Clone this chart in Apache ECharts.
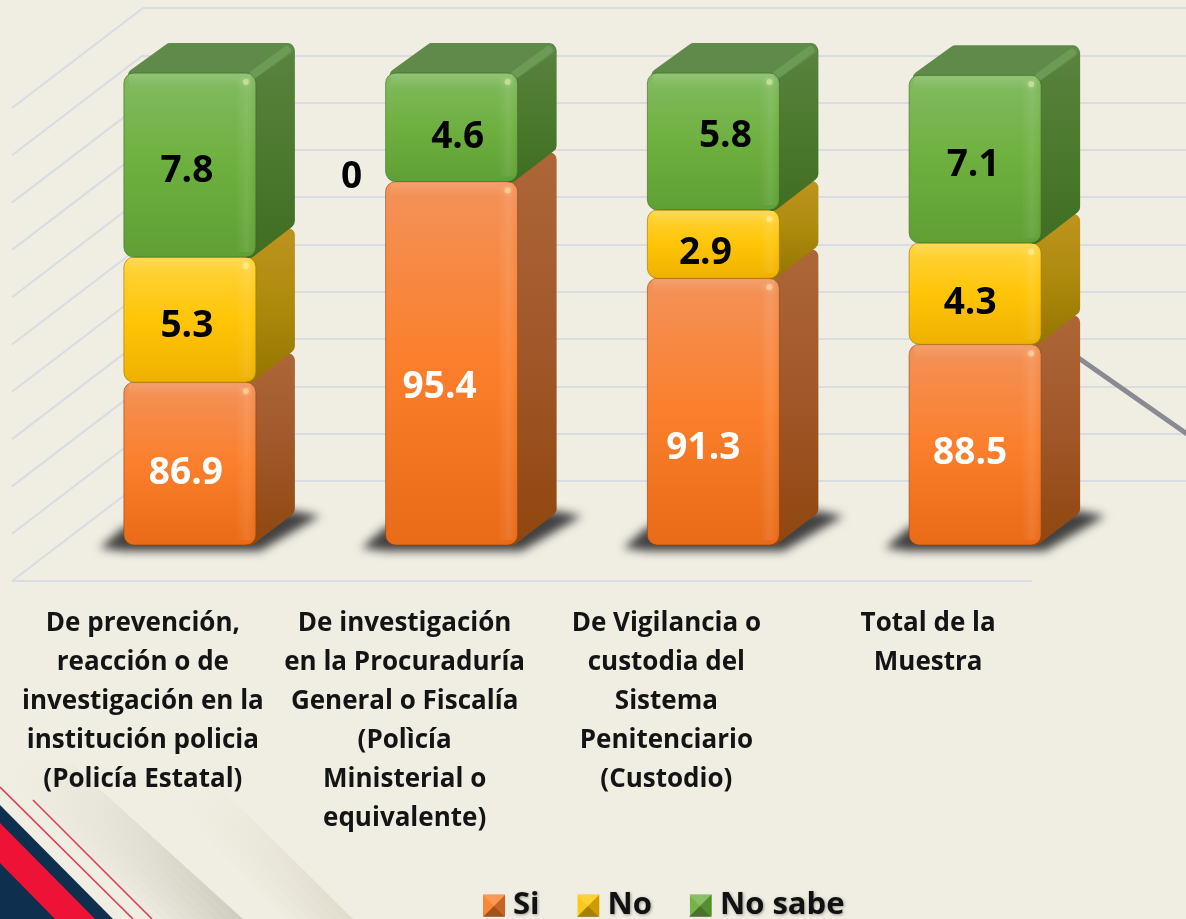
<!DOCTYPE html>
<html>
<head>
<meta charset="utf-8">
<title>Stacked bars</title>
<script src="https://cdn.jsdelivr.net/npm/echarts@6/dist/echarts.min.js"></script>
<style>
  html, body { margin: 0; padding: 0; background: #f0ede2; }
  #chart { width: 1186px; height: 919px; }
</style>
</head>
<body>
<div id="chart"></div>
<script>
var categories = [
  'De prevención,\nreacción o de\ninvestigación en la\ninstitución policia\n(Policía Estatal)',
  'De investigación\nen la Procuraduría\nGeneral o Fiscalía\n(Polìcía\nMinisterial o\nequivalente)',
  'De Vigilancia o\ncustodia del\nSistema\nPenitenciario\n(Custodio)',
  'Total de la\nMuestra\n\n\n\n'
]
var siValues = [86.9, 95.4, 91.3, 88.5]
var noValues = [5.3, 0, 2.9, 4.3]
var noSabeValues = [7.8, 4.6, 5.8, 7.1]
var seriesNames = ['Si', 'No', 'No sabe']
var wallTicks = [80, 82, 84, 86, 88, 90, 92, 94, 96, 98, 100]

var axisMin = 80
var axisMax = 100
var font = '"Open Sans", sans-serif'
var depthX = 39
var depthY = -30
var frontWidth = 132

// data labels sit where they were dragged in the original, not at the face centre
var labelNudge = [
  [[-4, 10], [-12, 24], [-10, 37], [-5, 9]],
  [[-3, 7], [-100, -4], [-8, 9], [-5, 10]],
  [[-3, 6], [6, 10], [12, -5], [-2, 6]]
]

var palette = [
  { front: ['#f39259', '#fb7f2c', '#e96a17'], side: ['#ad6638', '#a0582a', '#8f460e'], edge: 'rgba(140,70,20,0.6)', text: '#fff', shadow: 'rgba(60,40,20,0.8)' },
  { front: ['#ffd43e', '#ffc506', '#efb000'], side: ['#bd941f', '#ad8a0c', '#957500'], edge: 'rgba(150,115,0,0.6)', text: '#000', shadow: 'rgba(90,70,0,0.7)' },
  { front: ['#82bb61', '#6eb03f', '#5f9f35'], side: ['#5a8340', '#4c7a2e', '#3f6d22'], edge: 'rgba(60,105,35,0.6)', text: '#000', shadow: 'rgba(20,50,10,0.7)' }
]

function vGrad(c) {
  return new echarts.graphic.LinearGradient(0, 0, 0, 1, [
    { offset: 0, color: c[0] },
    { offset: 0.5, color: c[1] },
    { offset: 1, color: c[2] }
  ])
}

function makeStack(values, bases) {
  return values.map(function (v, i) {
    return [i, bases[i], bases[i] + v, v]
  })
}

var siData = makeStack(siValues, [0, 0, 0, 0])
var noData = makeStack(noValues, siValues)
var noSabeData = makeStack(noSabeValues, siValues.map(function (v, i) { return v + noValues[i] }))

function renderSegment(s, params, api) {
  var i = api.value(0)
  var val = api.value(3)
  var p = palette[s]
  var bottom = api.coord([i, Math.max(api.value(1), axisMin)])
  var top = api.coord([i, api.value(2)])
  var x0 = bottom[0] - frontWidth / 2
  var x1 = x0 + frontWidth
  var yB = bottom[1]
  var yT = top[1]
  var kids = []

  // floor shadow: only the blur is painted, the shape itself stays off the canvas
  if (s === 0) {
    var off = 3000
    kids.push({
      type: 'polygon',
      shape: { points: [[x0 - 24 - off, yB + 3], [x0 - off, yB + 6], [x1 + 4 - off, yB + 6], [x1 + 64 - off, yB - 29], [x1 + 38 - off, yB - 34], [x0 - off, yB - 18]] },
      style: { fill: '#555', shadowBlur: 10, shadowOffsetX: off, shadowColor: 'rgba(65,65,65,1)' }
    })
  }

  if (val > 0) {
    var sideFill = vGrad(p.side)
    kids.push({
      type: 'polygon',
      shape: { points: [[x1 - 7, yT + 8], [x1 + depthX - 7, yT + depthY + 8], [x1 + depthX - 7, yB + depthY - 6], [x1 - 7, yB - 6]] },
      style: { fill: sideFill, stroke: sideFill, lineWidth: 14, lineJoin: 'round' }
    })
    if (s === 2) {
      kids.push({
        type: 'polygon',
        shape: { points: [[x0 + 10, yT + 2], [x0 + depthX + 7, yT + depthY + 6], [x1 + depthX - 7, yT + depthY + 6], [x1 - 6, yT + 2]] },
        style: { fill: '#5f8a4a', stroke: '#5f8a4a', lineWidth: 12, lineJoin: 'round' }
      })
      kids.push({
        type: 'line',
        shape: { x1: x1 - 2, y1: yT + 1, x2: x1 + depthX - 8, y2: yT + depthY + 7 },
        style: { stroke: 'rgba(135,185,105,0.35)', lineWidth: 8, lineCap: 'round' }
      })
    }
    kids.push({
      type: 'rect',
      shape: { x: x0, y: yT, width: frontWidth, height: yB - yT, r: 10 },
      style: { fill: vGrad(p.front), stroke: p.edge, lineWidth: 1 }
    })
    kids.push({
      type: 'rect',
      shape: { x: x1 - 20, y: yT + 5, width: 18, height: yB - yT - 10 },
      style: { fill: new echarts.graphic.LinearGradient(0, 0, 1, 0, [
        { offset: 0, color: 'rgba(255,255,255,0)' },
        { offset: 0.6, color: 'rgba(255,255,255,0.09)' },
        { offset: 1, color: 'rgba(255,255,255,0.02)' }
      ]) }
    })
    kids.push({
      type: 'rect',
      shape: { x: x0 + 5, y: yT + 1, width: frontWidth - 10, height: 14 },
      style: { fill: new echarts.graphic.LinearGradient(0, 0, 0, 1, [
        { offset: 0, color: 'rgba(255,255,255,0.13)' },
        { offset: 1, color: 'rgba(255,255,255,0)' }
      ]) }
    })
    kids.push({
      type: 'circle',
      shape: { cx: x1 - 10, cy: yT + 9, r: 3 },
      style: { fill: 'rgba(255,255,190,0.4)', shadowBlur: 5, shadowColor: 'rgba(255,255,190,0.6)' }
    })
  }

  var nudge = labelNudge[s][i]
  kids.push({
    type: 'text',
    z2: 20,
    style: {
      x: bottom[0] + nudge[0],
      y: (yB + yT) / 2 + nudge[1],
      text: String(val),
      align: 'center',
      verticalAlign: 'middle',
      font: 'bold 37px ' + font,
      fill: p.text,
      shadowBlur: 3,
      shadowOffsetX: 1.5,
      shadowOffsetY: 1.5,
      shadowColor: p.shadow
    }
  })
  return { type: 'group', children: kids }
}

function barSeries(s, data) {
  return {
    name: seriesNames[s],
    type: 'custom',
    xAxisIndex: 0,
    yAxisIndex: 0,
    z: 3 + s,
    clip: false,
    itemStyle: { color: palette[s].front[1] },
    encode: { x: 0, y: [1, 2] },
    data: data,
    renderItem: function (params, api) {
      return renderSegment(s, params, api)
    }
  }
}

// side wall and floor of the fake 3D plot
var wallSeries = {
  type: 'custom',
  xAxisIndex: 1,
  yAxisIndex: 1,
  z: 1,
  silent: true,
  clip: false,
  encode: { x: 0, y: 1 },
  data: wallTicks.map(function (t) { return [0, t] }),
  renderItem: function (params, api) {
    var pt = api.coord([0, api.value(1)])
    var kids = [{
      type: 'line',
      shape: { x1: pt[0], y1: pt[1], x2: pt[0] - 131, y2: pt[1] + 100 },
      style: { stroke: '#d9dce0', lineWidth: 2 }
    }]
    if (api.value(1) === axisMin) {
      kids.push({
        type: 'line',
        shape: { x1: pt[0] - 131, y1: pt[1] + 100, x2: pt[0] - 131 + 1020, y2: pt[1] + 100 },
        style: { stroke: '#d9dce0', lineWidth: 2 }
      })
    }
    return { type: 'group', children: kids }
  }
}

var bevelCols = ['rgba(255,255,255,0.2)', 'rgba(255,255,255,0.06)', 'rgba(0,0,0,0.2)', 'rgba(0,0,0,0.35)']

function bevel(x, y, size) {
  var m = size / 2
  var tris = [
    [[x, y], [x + size, y], [x + m, y + m]],
    [[x, y], [x, y + size], [x + m, y + m]],
    [[x + size, y], [x + size, y + size], [x + m, y + m]],
    [[x, y + size], [x + size, y + size], [x + m, y + m]]
  ]
  return tris.map(function (pts, k) {
    return { type: 'polygon', z: 50, silent: true, shape: { points: pts }, style: { fill: bevelCols[k] } }
  })
}

// soft slide decoration: strips parallel to one sharp edge, fading sideways and upwards
function softBand(xt, yt, xb, yb, strips, step, rgb, alpha) {
  var out = []
  for (var n = 0; n < strips; n++) {
    var s0 = n * step
    var s1 = s0 + step
    out.push({
      type: 'polygon', z: 0, silent: true,
      shape: { points: [[xt - s0, yt], [xb - s0, yb], [xb - s1, yb], [xt - s1, yt]] },
      style: { fill: new echarts.graphic.LinearGradient(xt - s0, yt, xb - s0, yb, [
        { offset: 0, color: 'rgba(' + rgb + ',0)' },
        { offset: 1, color: 'rgba(' + rgb + ',' + (alpha * (1 - n / strips)) + ')' }
      ], true) }
    })
  }
  return out
}

var backdrop = softBand(60, 753, 243, 919, 9, 10, '205,203,190', 0.95)
  .concat(softBand(215, 782, 353, 919, 6, 11, '222,219,204', 0.9))
  .concat([
    { type: 'polygon', z: 0, silent: true, shape: { points: [[0, 805], [113, 919], [0, 919]] }, style: { fill: '#0f2f4e' } },
    { type: 'polygon', z: 0, silent: true, shape: { points: [[0, 823], [95, 919], [55, 919], [0, 863]] }, style: { fill: '#ef1237' } },
    { type: 'line', z: 0, silent: true, shape: { x1: 0, y1: 787, x2: 133, y2: 919 }, style: { stroke: '#d9405a', lineWidth: 1.6 } },
    { type: 'line', z: 0, silent: true, shape: { x1: 33, y1: 800, x2: 152, y2: 919 }, style: { stroke: '#d9405a', lineWidth: 1.6 } },
    { type: 'line', z: 1, silent: true, shape: { x1: 1070, y1: 352, x2: 1190, y2: 436 }, style: { stroke: '#8a8a93', lineWidth: 5 } }
  ])

var myChart = echarts.init(document.getElementById('chart'), null, { renderer: 'canvas' })
myChart.setOption({
  backgroundColor: '#f0ede2',
  animation: false,
  textStyle: { fontFamily: font },
  graphic: {
    elements: backdrop
      .concat(bevel(483, 895, 22))
      .concat(bevel(577, 895, 22))
      .concat(bevel(689, 895, 22))
  },
  legend: {
    left: 483,
    top: 890,
    padding: 0,
    itemWidth: 22,
    itemHeight: 22,
    itemGap: 38,
    icon: 'rect',
    data: seriesNames,
    selectedMode: false,
    textStyle: {
      fontFamily: font,
      fontWeight: 'bold',
      fontSize: 31,
      color: '#111',
      padding: [0, 0, 0, 3],
      textShadowBlur: 3,
      textShadowOffsetX: 1,
      textShadowOffsetY: 1,
      textShadowColor: 'rgba(0,0,0,0.35)'
    }
  },
  grid: [
    { left: 59, width: 1047, top: 73, height: 472 },
    { left: 143, right: 0, top: 8, height: 473 },
    { left: 12, width: 1047, top: 100, height: 481 }
  ],
  xAxis: [
    { gridIndex: 0, type: 'category', data: categories, show: false },
    { gridIndex: 1, type: 'value', min: 0, max: 1, show: false },
    {
      gridIndex: 2,
      type: 'category',
      data: categories,
      axisLine: { show: false },
      axisTick: { show: false },
      axisLabel: {
        interval: 0,
        margin: 23,
        fontFamily: font,
        fontWeight: 'bold',
        fontSize: 26,
        lineHeight: 39,
        color: '#141414'
      }
    }
  ],
  yAxis: [
    { gridIndex: 0, type: 'value', min: axisMin, max: axisMax, show: false },
    {
      gridIndex: 1,
      type: 'value',
      min: axisMin,
      max: axisMax,
      interval: 2,
      axisLine: { show: false },
      axisTick: { show: false },
      axisLabel: { show: false },
      splitLine: { show: true, lineStyle: { color: '#d9dce0', width: 2 } }
    },
    { gridIndex: 2, type: 'value', min: 0, max: 1, show: false }
  ],
  series: [
    wallSeries,
    barSeries(0, siData),
    barSeries(1, noData),
    barSeries(2, noSabeData)
  ]
})
</script>
</body>
</html>
